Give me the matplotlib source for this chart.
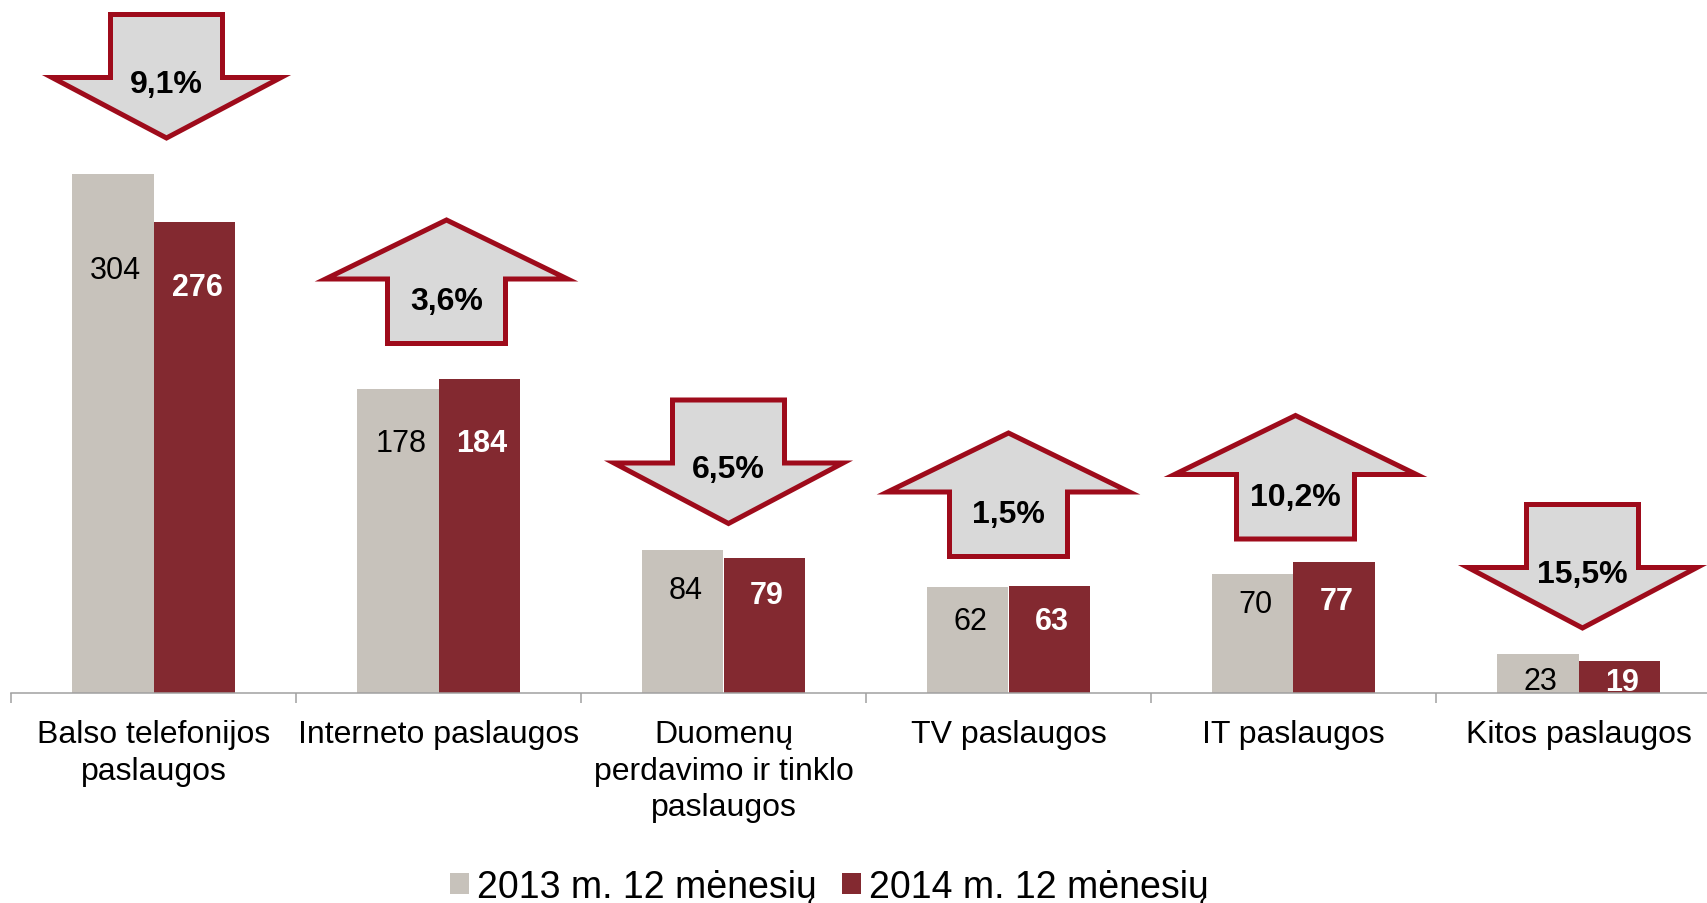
import numpy as np
import matplotlib
matplotlib.use('Agg')
from matplotlib import pyplot as plt
from matplotlib.patches import Polygon

plt.rcParams['font.family'] = ['Liberation Sans', 'DejaVu Sans']

categories = ['Balso telefonijos\npaslaugos', 'Interneto paslaugos',
              'Duomenų\nperdavimo ir tinklo\npaslaugos', 'TV paslaugos',
              'IT paslaugos', 'Kitos paslaugos']
v2013 = [304, 178, 84, 62, 70, 23]
v2014 = [276, 184, 79, 63, 77, 19]
changes = ['9,1%', '3,6%', '6,5%', '1,5%', '10,2%', '15,5%']
legend_labels = ['2013 m. 12 mėnesių', '2014 m. 12 mėnesių']

# layout (pixels of the 1707x904 picture)
arrow_top_px = [13, 216, 398.5, 429, 411.5, 503]
arrow_dx_px = [13, 8, 5, 0, 2, 4]
label_y_2013_px = [268, 441, 588, 619.5, 602, 679]
label_y_2014_px = [285, 441, 593, 619.5, 599, 680]

GRAY = '#C7C2BB'
RED = '#832930'
ARROW_EDGE = '#9E0B1B'
ARROW_FILL = '#D9D9D9'

W, H = 1707, 904
AXIS_Y = 694
CAT_PX = 285
PX_PER_UNIT = 1.706

fig = plt.figure(figsize=(W / 100, H / 100), dpi=100)
ax = fig.add_axes([11 / W, (H - AXIS_Y) / H, 6 * CAT_PX / W, AXIS_Y / H])

x = np.arange(len(categories))
w = 0.2853
b1 = ax.bar(x - w / 2, v2013, w, color=GRAY, label=legend_labels[0])
b2 = ax.bar(x + w / 2, v2014, w, color=RED, label=legend_labels[1])
ax.set_xlim(-0.5, 5.5)
ax.set_ylim(0, AXIS_Y / PX_PER_UNIT)


def ydata(ypx):
    return (AXIS_Y - ypx) / PX_PER_UNIT


def xdata(i, dxpx):
    return i + dxpx / CAT_PX


# bar value labels, baseline = visual centre + half cap height
cap22 = 0.716 * 22 * 100 / 72
for i in range(len(categories)):
    ax.text(xdata(i, 3) - w / 2, ydata(label_y_2013_px[i] + cap22 / 2), str(v2013[i]),
            ha='center', va='baseline', fontsize=22, color='black')
    ax.text(xdata(i, 3) + w / 2, ydata(label_y_2014_px[i] + cap22 / 2), str(v2014[i]),
            ha='center', va='baseline', fontsize=22, color='white', fontweight='bold')

# arrows
lw_px = 5
cap23 = 0.716 * 23 * 100 / 72
for i in range(len(categories)):
    cx = arrow_dx_px[i]
    top = arrow_top_px[i]
    if v2014[i] < v2013[i]:
        hw, sw, hl, ht = 234 / 2, 117 / 2, 68, 131
        t = top + lw_px / 2
        base = top + ht - hl + lw_px / 2
        tip = top + ht - 5
        pts = [(-sw, t), (sw, t), (sw, base), (hw, base), (0, tip), (-hw, base), (-sw, base)]
        ty = top + 68.5
    else:
        hw, sw, hl, ht = 247 / 2, 123 / 2, 66.5, 131
        tip = top + 5
        base = top + hl - lw_px / 2
        bot = top + ht - lw_px / 2
        pts = [(0, tip), (hw, base), (sw, base), (sw, bot), (-sw, bot), (-sw, base), (-hw, base)]
        ty = top + ht - 48
    pts = [(xdata(i, cx + (px - np.sign(px) * lw_px / 2 if abs(px) > 0 else 0)), ydata(py))
           for px, py in pts]
    ax.add_patch(Polygon(pts, closed=True, facecolor=ARROW_FILL, edgecolor=ARROW_EDGE,
                         linewidth=lw_px * 0.72, joinstyle='miter', zorder=3))
    ax.text(xdata(i, cx), ydata(ty + cap23 / 2), changes[i], ha='center', va='baseline',
            fontsize=23, fontweight='bold', zorder=4)

for s in ['top', 'left', 'right']:
    ax.spines[s].set_visible(False)
ax.spines['bottom'].set_color('#A0A0A0')
ax.spines['bottom'].set_linewidth(1.1)
ax.set_yticks([])
ax.set_xticks(x, categories, fontsize=23, linespacing=1.3)
ax.set_xticks(np.arange(-0.5, 6, 1), minor=True)
ax.tick_params(axis='x', which='major', length=0, pad=18.5)
ax.tick_params(axis='x', which='minor', length=7.2, width=1.1, color='#A0A0A0')

fs = 27
em = fs * 100 / 72
fig.legend(handles=[b1, b2], labels=legend_labels, ncol=2, loc='center',
           bbox_to_anchor=(829.6 / W, 1 - 888 / H), frameon=False, fontsize=fs,
           handlelength=19 / em, handleheight=19 / em, handletextpad=8 / em,
           columnspacing=25 / em, borderpad=0, borderaxespad=0)

fig.savefig('out.png', dpi=100)
